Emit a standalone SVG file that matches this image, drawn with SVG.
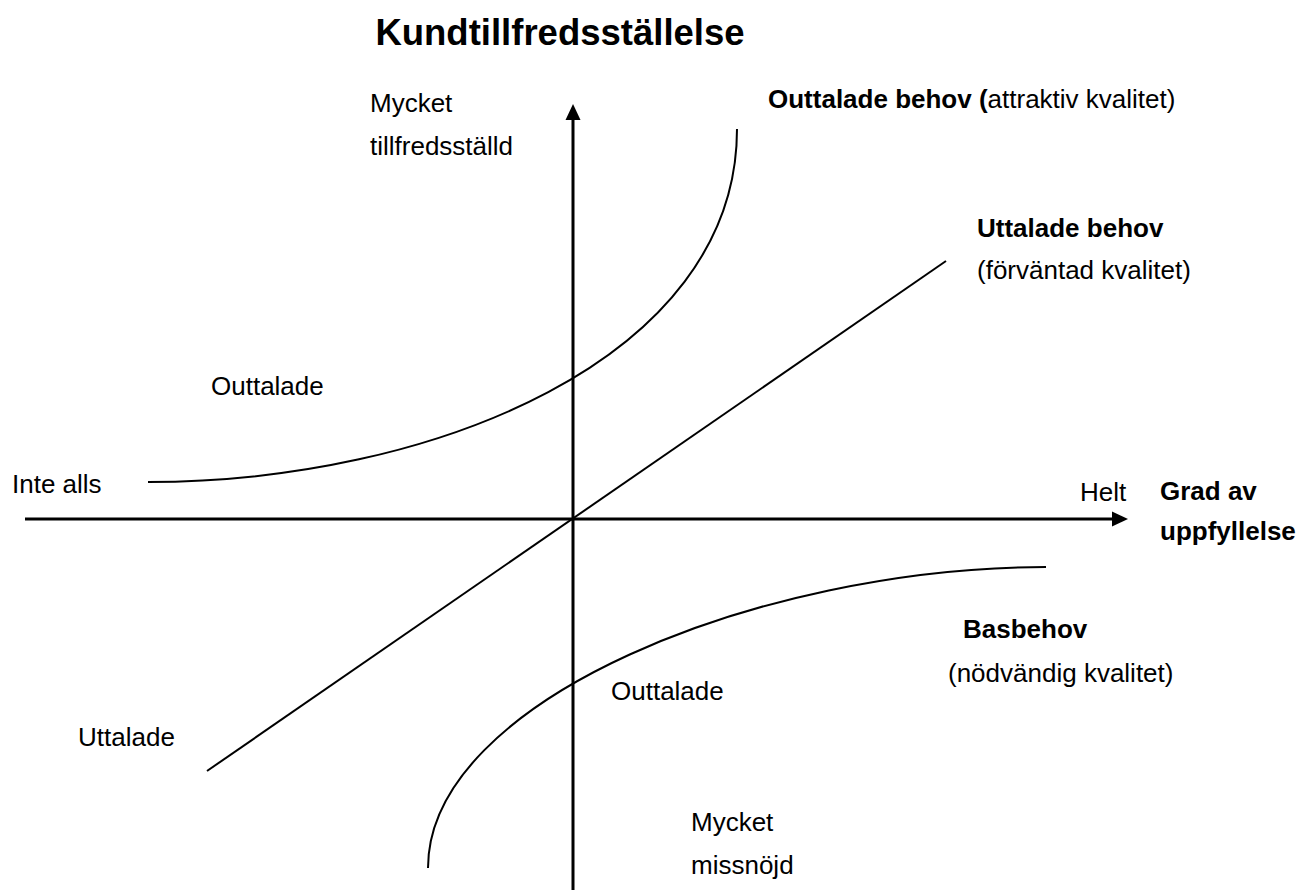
<svg xmlns="http://www.w3.org/2000/svg" width="1299" height="890" viewBox="0 0 1299 890">
<style>
  .t { font-family: "Liberation Sans", Arial, sans-serif; font-size: 26px; fill: #000; }
  .b { font-weight: bold; }
  .title { font-family: "Liberation Sans", Arial, sans-serif; font-size: 36.5px; font-weight: bold; fill: #000; }
  .axis { stroke: #000; stroke-width: 3; fill: none; }
  .curve { stroke: #000; stroke-width: 2; fill: none; }
  .head { fill: #000; stroke: none; }
</style>
<rect width="1299" height="890" fill="#fff"/>
<g id="title"><text class="title" x="560" y="45" text-anchor="middle">Kundtillfredsställelse</text></g>
<g id="connectors">
  <line class="axis" x1="25" y1="519" x2="1114" y2="519"/>
  <polygon class="head" points="1128,519 1112,511.5 1112,526.5"/>
  <line class="axis" x1="573" y1="890" x2="573" y2="118"/>
  <polygon class="head" points="573,104 565.5,120 580.5,120"/>
  <line class="curve" x1="207" y1="771" x2="946" y2="261"/>
  <path class="curve" d="M148,482 C430,482 737,360 737,129"/>
  <path class="curve" d="M428,868 C428,700 760,567 1046,567"/>
</g>
<g id="label-mycket-tillfreds"><text class="t" x="370" y="112">Mycket</text><text class="t" x="370" y="155">tillfredsställd</text></g>
<g id="label-outtalade-behov"><text class="t" x="768" y="108"><tspan class="b">Outtalade behov (</tspan>attraktiv kvalitet)</text></g>
<g id="label-uttalade-behov"><text class="t b" x="977" y="237">Uttalade behov</text><text class="t" x="977" y="279">(förväntad kvalitet)</text></g>
<g id="label-outtalade-upper"><text class="t" x="211" y="395">Outtalade</text></g>
<g id="label-inte-alls"><text class="t" x="12" y="493">Inte alls</text></g>
<g id="label-helt"><text class="t" x="1080" y="501">Helt</text></g>
<g id="label-grad"><text class="t b" x="1160" y="500">Grad av</text><text class="t b" x="1160" y="540">uppfyllelse</text></g>
<g id="label-basbehov"><text class="t b" x="963" y="638">Basbehov</text><text class="t" x="948" y="682">(nödvändig kvalitet)</text></g>
<g id="label-outtalade-lower"><text class="t" x="611" y="700">Outtalade</text></g>
<g id="label-uttalade"><text class="t" x="78" y="746">Uttalade</text></g>
<g id="label-mycket-missnojd"><text class="t" x="691" y="831">Mycket</text><text class="t" x="691" y="874">missnöjd</text></g>
</svg>
